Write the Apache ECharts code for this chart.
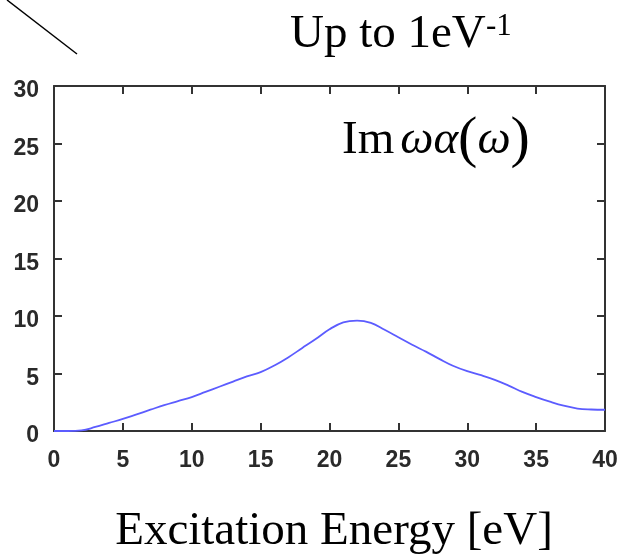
<!DOCTYPE html>
<html>
<head>
<meta charset="utf-8">
<script src="https://cdn.jsdelivr.net/npm/echarts@6/dist/echarts.min.js"></script>
<style>
  html, body { margin: 0; padding: 0; background: #fff; }
  #chart { width: 620px; height: 554px; }
</style>
</head>
<body>
<div id="chart"></div>
<script>
// Excitation energy grid (eV) and the imaginary part of omega * alpha(omega)
const energy = [0, 1, 2, 3, 4, 5, 6, 7, 8, 9, 10, 11, 12, 13, 14, 15, 16, 17, 18, 19, 20,
                21, 22, 23, 24, 25, 26, 27, 28, 29, 30, 31, 32, 33, 34, 35, 36, 37, 38, 39, 40];
const imOmegaAlpha = [0, 0, 0.05, 0.35, 0.7, 1.05, 1.45, 1.85, 2.25, 2.6, 2.95, 3.4, 3.85, 4.3, 4.75,
                      5.12, 5.7, 6.4, 7.2, 8.0, 8.85, 9.45, 9.6, 9.4, 8.8, 8.15, 7.5, 6.9, 6.25, 5.65,
                      5.2, 4.85, 4.45, 3.95, 3.4, 2.95, 2.55, 2.2, 1.95, 1.87, 1.85];
const xTicks = [0, 5, 10, 15, 20, 25, 30, 35, 40];
const yTicks = [0, 5, 10, 15, 20, 25, 30];

const xTitle = 'Excitation Energy [eV]';
const cutoffText = 'Up to 1eV';
const cutoffSup = '-1';

const serif = '"Liberation Serif", "Times New Roman", serif';
const sans = '"Liberation Sans", Arial, Helvetica, sans-serif';
const frameColor = '#333';
const tickLabelColor = '#2a2a2a';

const seriesData = energy.map((e, i) => [e, imOmegaAlpha[i]]);

function frameAxis(extra) {
  return Object.assign({
    type: 'value',
    axisLine: { show: true, onZero: false, lineStyle: { color: frameColor, width: 2 } },
    axisTick: { show: true, inside: true, length: 8, lineStyle: { color: frameColor, width: 2 } },
    splitLine: { show: false }
  }, extra);
}

const chart = echarts.init(document.getElementById('chart'), null, { renderer: 'canvas' });

chart.setOption({
  animation: false,
  backgroundColor: '#fff',
  grid: {
    left: 54, right: 15, top: 86, bottom: 123,
    containLabel: false,
    outerBoundsMode: 'none'
  },
  xAxis: [
    frameAxis({
      min: xTicks[0], max: xTicks[xTicks.length - 1], interval: 5,
      position: 'bottom',
      axisLabel: { color: tickLabelColor, fontFamily: sans, fontSize: 23, fontWeight: 'bold', margin: 18 },
      name: xTitle,
      nameLocation: 'middle',
      nameGap: 77,
      nameTextStyle: { color: '#000', fontFamily: serif, fontSize: 47, padding: [0, 0, 0, 9] }
    }),
    frameAxis({
      min: xTicks[0], max: xTicks[xTicks.length - 1], interval: 5,
      position: 'top',
      axisLabel: { show: false }
    })
  ],
  yAxis: [
    frameAxis({
      min: yTicks[0], max: yTicks[yTicks.length - 1], interval: 5,
      position: 'left',
      axisLabel: {
        color: tickLabelColor, fontFamily: sans, fontSize: 23, fontWeight: 'bold', margin: 15,
        verticalAlign: 'top', lineHeight: 10
      }
    }),
    frameAxis({
      min: yTicks[0], max: yTicks[yTicks.length - 1], interval: 5,
      position: 'right',
      axisLabel: { show: false }
    })
  ],
  series: [{
    type: 'line',
    data: seriesData,
    xAxisIndex: 0,
    yAxisIndex: 0,
    smooth: 0.4,
    symbol: 'none',
    lineStyle: { color: '#5c5cff', width: 1.8 }
  }],
  graphic: [
    {
      type: 'line',
      shape: { x1: 7, y1: 0, x2: 77, y2: 54 },
      style: { stroke: '#000', lineWidth: 1.5 }
    },
    {
      type: 'text',
      x: 290, y: 35,
      style: { text: cutoffText, font: '47px ' + serif, fill: '#000', verticalAlign: 'middle', align: 'left' }
    },
    {
      type: 'text',
      x: 486, y: 26.5,
      style: { text: cutoffSup, font: '31px ' + serif, fill: '#000', verticalAlign: 'middle', align: 'left' }
    },
    {
      type: 'text',
      x: 342, y: 140.7,
      style: {
        text: '{r|Im}{g|ωα}{p|(}{g|ω}{p|)}',
        verticalAlign: 'middle',
        align: 'left',
        fill: '#000',
        rich: {
          r: { fontFamily: serif, fontSize: 47, fill: '#000', padding: [0, 6, 0, 0] },
          g: { fontFamily: serif, fontSize: 47, fontStyle: 'italic', fill: '#000' },
          p: { fontFamily: serif, fontSize: 58, fill: '#000' }
        }
      }
    }
  ]
});
</script>
</body>
</html>
